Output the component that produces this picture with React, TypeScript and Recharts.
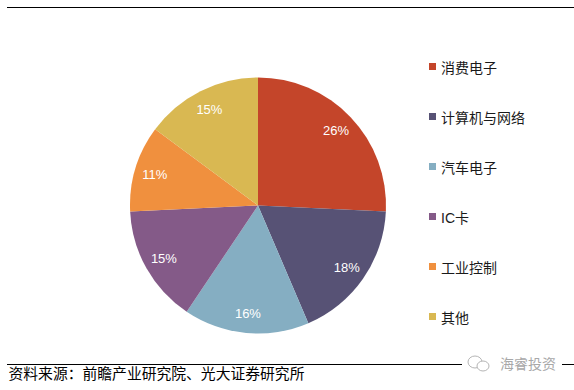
import React from "react";
import { PieChart, Pie, Cell, Legend } from "recharts";

const categories = ["消费电子", "计算机与网络", "汽车电子", "IC卡", "工业控制", "其他"];
const shares = [26, 18, 16, 15, 11, 15];
const colors = ["#C4452A", "#575275", "#85AEC2", "#845A88", "#F0903E", "#D9B852"];
const sourceText = "资料来源：前瞻产业研究院、光大证券研究所";
const watermark = "海睿投资";

const data = categories.map((name, i) => ({ name, value: shares[i] }));

const FONT = '"Liberation Sans", Arial, "Noto Sans CJK SC", sans-serif';
const RAD = Math.PI / 180;

const renderLabel = (props: any) => {
  const { cx, cy, midAngle, value } = props;
  const r = 108;
  const x = cx + r * Math.cos(-midAngle * RAD);
  const y = cy + r * Math.sin(-midAngle * RAD);
  return (
    <text
      x={x}
      y={y}
      fill="#ffffff"
      fontSize={13}
      fontFamily={FONT}
      textAnchor="middle"
      dominantBaseline="central"
    >
      {`${value}%`}
    </text>
  );
};

const renderLegend = () => (
  <div style={{ position: "absolute", left: 429, top: 0, fontFamily: FONT }}>
    {categories.map((c, i) => (
      <div
        key={c}
        style={{
          position: "absolute",
          left: 0,
          top: 66.7 + i * 50 - 10,
          height: 20,
          display: "flex",
          alignItems: "center",
          whiteSpace: "nowrap",
        }}
      >
        <span style={{ width: 7, height: 7, background: colors[i], display: "inline-block" }} />
        <span style={{ marginLeft: 5, fontSize: 14, color: "#1a1a1a" }}>{c}</span>
      </div>
    ))}
  </div>
);

export default function App() {
  return (
    <div style={{ position: "absolute", left: 0, top: 0, width: 574, height: 390, background: "#fff" }}>
      <svg width={574} height={390} style={{ position: "absolute", left: 0, top: 0 }}>
        <line x1={7} y1={7.5} x2={574} y2={7.5} stroke="#000" strokeWidth={1.2} />
        <line x1={7} y1={364.5} x2={574} y2={364.5} stroke="#000" strokeWidth={1.2} />
        <text x={8.5} y={374} fontSize={14.8} fontFamily={FONT} fill="#000" dominantBaseline="central">
          {sourceText}
        </text>
        <rect x={462} y={355} width={100} height={18} fill="#fff" />
        <g fill="none" stroke="#b5b5b5" strokeWidth={1}>
          <ellipse cx={475} cy={362} rx={7} ry={6} />
          <ellipse cx={483} cy={366} rx={6} ry={5} fill="#fff" />
        </g>
        <text x={500} y={364} fontSize={14} fontFamily={FONT} fill="#a8a8a8" dominantBaseline="central">
          {watermark}
        </text>
      </svg>
      <div style={{ position: "absolute", left: 0, top: 0 }}>
        <PieChart width={574} height={390} margin={{ top: 0, right: 0, bottom: 0, left: 0 }}>
          <Pie
            data={data}
            dataKey="value"
            nameKey="name"
            cx={258}
            cy={205.5}
            outerRadius={128}
            startAngle={90}
            endAngle={-270}
            stroke="none"
            label={renderLabel}
            labelLine={false}
            isAnimationActive={false}
          >
            {data.map((d, i) => (
              <Cell key={d.name} fill={colors[i]} />
            ))}
          </Pie>
          <Legend content={renderLegend} wrapperStyle={{ position: "absolute", left: 0, top: 0, width: 574, height: 390 }} />
        </PieChart>
      </div>
    </div>
  );
}
